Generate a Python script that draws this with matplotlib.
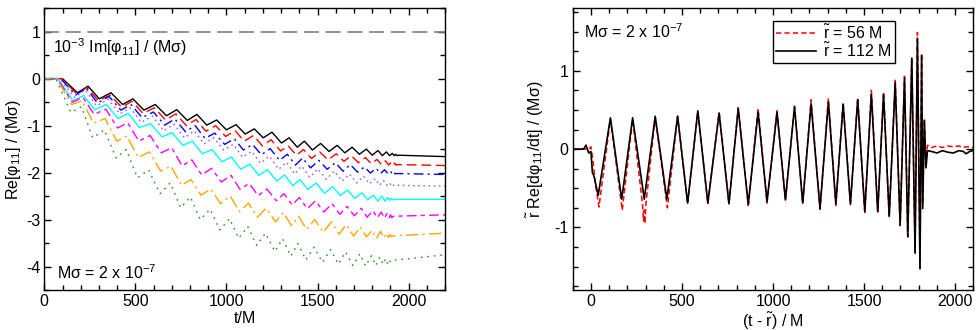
import numpy as np
import matplotlib
matplotlib.use("Agg")
import matplotlib.pyplot as plt
from matplotlib.ticker import MultipleLocator

plt.rcParams['font.family'] = ['Liberation Sans', 'DejaVu Sans']
plt.rcParams['mathtext.fontset'] = 'custom'
plt.rcParams['mathtext.rm'] = 'Liberation Sans'
plt.rcParams['mathtext.it'] = 'Liberation Sans'
plt.rcParams['mathtext.default'] = 'rm'
plt.rcParams['axes.unicode_minus'] = False

# ---- left panel: Re[phi_11] at several radii (extrema) ----
t_left = [0, 100, 182, 240, 302, 366, 430, 486, 547, 609, 671, 727, 785, 838, 892, 946,
          1000, 1053, 1103, 1153, 1202, 1250, 1302, 1344, 1389, 1428, 1472, 1517, 1563, 1608,
          1650, 1690, 1730, 1768, 1800, 1832, 1856, 1878, 1896, 1910, 1921, 1929, 1936, 1945]
t_left_end = 2200

re_black = [0, 0, -0.30, -0.16, -0.43, -0.30, -0.55, -0.43, -0.67, -0.55, -0.79, -0.66, -0.89, -0.76,
            -0.99, -0.88, -1.09, -0.98, -1.18, -1.07, -1.26, -1.14, -1.37, -1.26, -1.46, -1.33, -1.52,
            -1.38, -1.55, -1.42, -1.58, -1.46, -1.61, -1.50, -1.63, -1.53, -1.64, -1.56, -1.64, -1.59,
            -1.64, -1.61, -1.64, -1.63]
re_red = [0, 0, -0.32, -0.19, -0.47, -0.35, -0.61, -0.48, -0.74, -0.62, -0.88, -0.75, -1.00, -0.87,
          -1.12, -1.00, -1.23, -1.11, -1.33, -1.21, -1.43, -1.30, -1.54, -1.43, -1.63, -1.51, -1.70,
          -1.56, -1.73, -1.60, -1.76, -1.64, -1.79, -1.68, -1.81, -1.72, -1.83, -1.75, -1.84, -1.78,
          -1.84, -1.80, -1.84, -1.83]
re_blue = [0, 0, -0.35, -0.20, -0.52, -0.38, -0.67, -0.55, -0.83, -0.71, -0.99, -0.86, -1.13, -1.00,
           -1.27, -1.16, -1.40, -1.28, -1.52, -1.40, -1.62, -1.49, -1.74, -1.61, -1.84, -1.69, -1.90,
           -1.74, -1.93, -1.79, -1.97, -1.83, -1.99, -1.88, -2.01, -1.91, -2.02, -1.94, -2.02, -1.97,
           -2.03, -1.99, -2.03, -2.02]
re_purple = [0, 0, -0.40, -0.24, -0.58, -0.44, -0.75, -0.62, -0.93, -0.80, -1.11, -0.97, -1.26, -1.11,
             -1.39, -1.26, -1.52, -1.40, -1.67, -1.55, -1.80, -1.65, -1.93, -1.78, -2.03, -1.86, -2.10,
             -1.92, -2.14, -1.97, -2.18, -2.03, -2.22, -2.08, -2.24, -2.13, -2.27, -2.17, -2.27, -2.22,
             -2.28, -2.25, -2.28, -2.27]
re_cyan = [0, 0, -0.47, -0.36, -0.66, -0.55, -0.85, -0.74, -1.04, -0.96, -1.24, -1.15, -1.42, -1.33,
           -1.60, -1.51, -1.77, -1.67, -1.93, -1.82, -2.06, -1.94, -2.18, -2.05, -2.28, -2.15, -2.36,
           -2.22, -2.44, -2.30, -2.49, -2.37, -2.55, -2.43, -2.58, -2.48, -2.61, -2.50, -2.61, -2.53,
           -2.59, -2.55, -2.58, -2.57]
re_magenta = [0, 0, -0.50, -0.40, -0.76, -0.65, -1.05, -0.94, -1.33, -1.21, -1.58, -1.47, -1.86, -1.73,
              -2.05, -1.91, -2.20, -2.06, -2.36, -2.23, -2.49, -2.35, -2.60, -2.45, -2.69, -2.53, -2.77,
              -2.60, -2.84, -2.66, -2.89, -2.72, -2.92, -2.76, -2.95, -2.81, -2.96, -2.84, -2.97, -2.87,
              -2.96, -2.90, -2.96, -2.93]
re_orange = [0, 0, -0.55, -0.47, -0.95, -0.85, -1.33, -1.22, -1.68, -1.56, -1.97, -1.86, -2.27, -2.15,
             -2.48, -2.35, -2.66, -2.50, -2.83, -2.65, -2.95, -2.76, -3.05, -2.85, -3.13, -2.93, -3.21,
             -3.00, -3.27, -3.05, -3.31, -3.11, -3.35, -3.16, -3.37, -3.23, -3.40, -3.25, -3.39, -3.29,
             -3.38, -3.32, -3.36, -3.35]
re_green = [0, 0, -0.72, -0.60, -1.26, -1.09, -1.69, -1.51, -2.11, -1.94, -2.45, -2.22, -2.75, -2.52,
            -3.00, -2.78, -3.22, -2.98, -3.40, -3.15, -3.55, -3.29, -3.68, -3.41, -3.78, -3.51, -3.86,
            -3.59, -3.91, -3.64, -3.95, -3.69, -3.98, -3.73, -3.99, -3.77, -3.98, -3.80, -3.95, -3.83,
            -3.93, -3.85, -3.90, -3.87]
re_end = [-1.66, -1.85, -2.04, -2.29, -2.57, -2.90, -3.29, -3.75]
lag_left = [0, -5, -10, -15, -25, -28, -32, -36]

im_t = [0, 2200]
im_val = [1.0, 1.0]

# ---- right panel: r Re[d phi_11/dt] for two extraction radii ----
t_r112 = [-100, -40, -27, -12, 0, 8, 16, 40, 107, 169, 229, 293, 353, 417, 476, 531, 587, 642,
          704, 758, 809, 864, 918, 967, 1022, 1068, 1118, 1163, 1209, 1258, 1304, 1345, 1385, 1425,
          1465, 1504, 1540, 1575, 1607, 1638, 1671, 1698, 1722, 1740, 1762, 1780, 1793, 1807, 1816,
          1822, 1831, 1840, 1848, 1870, 1900, 1930, 1960, 1990, 2020, 2045, 2060, 2080, 2100]
d_r112 = [0, 0, 0.05, -0.05, -0.03, -0.30, -0.34, -0.59, 0.40, -0.64, 0.40, -0.64, 0.42, -0.64,
          0.42, -0.69, 0.49, -0.69, 0.46, -0.70, 0.52, -0.71, 0.47, -0.67, 0.47, -0.65, 0.54, -0.69,
          0.58, -0.76, 0.60, -0.70, 0.57, -0.70, 0.63, -0.80, 0.70, -0.80, 0.70, -0.86, 0.85, -0.97,
          0.91, -1.12, 1.16, -1.33, 1.41, -1.53, 1.20, -0.76, 0.37, -0.24, -0.02, -0.03, -0.05, -0.02,
          -0.04, -0.05, -0.02, -0.03, -0.06, -0.03, -0.02]
t_r56 = [-100, -40, -10, 0, 10, 25, 44, 107, 172, 229, 283, 289, 293, 297, 302, 353, 420, 476, 531,
         587, 642, 704, 758, 809, 864, 918, 967, 1022, 1068, 1118, 1163, 1209, 1258, 1304, 1345, 1385,
         1425, 1465, 1504, 1540, 1575, 1607, 1638, 1671, 1698, 1722, 1740, 1762, 1780, 1793, 1807,
         1816, 1822, 1831, 1840, 1848, 1870, 1900, 1930, 1960, 1990, 2020, 2045, 2060, 2080, 2100]
d_r56 = [0, 0, 0.0, 0.03, -0.12, -0.45, -0.74, 0.38, -0.78, 0.38, -0.70, -0.92, -0.78, -0.95, -0.70,
         0.40, -0.75, 0.42, -0.70, 0.48, -0.70, 0.47, -0.70, 0.53, -0.72, 0.52, -0.69, 0.49, -0.66,
         0.55, -0.70, 0.63, -0.77, 0.65, -0.72, 0.60, -0.71, 0.66, -0.81, 0.75, -0.80, 0.73, -0.87,
         0.88, -0.98, 0.93, -1.12, 1.17, -1.33, 1.49, -1.52, 1.22, -0.70, 0.38, -0.20, 0.05, 0.02,
         0.04, 0.02, 0.04, 0.03, 0.04, 0.02, 0.03, 0.03, 0.02]

FS = 11.5

fig = plt.figure(figsize=(9.8, 3.3), dpi=100)
ax1 = fig.add_axes([0.0452, 0.1212, 0.4089, 0.854])
ax2 = fig.add_axes([0.5844, 0.1212, 0.4088, 0.854])

left_series = [re_black, re_red, re_blue, re_purple, re_cyan, re_magenta, re_orange, re_green]
left_colors = ['black', '#ff0000', '#0000ff', '#9a5cf0', '#00ffff', '#ff00ff', '#ffa500', '#2e8b2e']
left_dashes = [None, (7, 3.5), (7, 3, 1.5, 3), (1.2, 2.5), None, (7, 3, 3, 3), (9, 3, 1.5, 3), (1.2, 3.5)]

ax1.plot(im_t, im_val, color='#808080', lw=1.2, dashes=(9, 4))
for k in range(len(left_series)):
    x = np.append(np.array(t_left) + lag_left[k], t_left_end)
    y = np.append(left_series[k], re_end[k])
    line, = ax1.plot(x, y, color=left_colors[k], lw=1.0)
    if left_dashes[k] is not None:
        line.set_dashes(left_dashes[k])

ax1.set_xlim(0, 2200)
ax1.set_ylim(-4.5, 1.5)
ax1.set_xticks([0, 500, 1000, 1500, 2000])
ax1.set_yticks([-4, -3, -2, -1, 0, 1])
ax1.xaxis.set_minor_locator(MultipleLocator(100))
ax1.yaxis.set_minor_locator(MultipleLocator(0.5))
ax1.set_xlabel('t/M', fontsize=FS, labelpad=1)
ax1.set_ylabel(r'Re[$\varphi_{11}$] / (M$\sigma$)', fontsize=FS, labelpad=2)
ax1.text(0.0225, 0.863, r'10$^{-3}$ Im[$\varphi_{11}$] / (M$\sigma$)', transform=ax1.transAxes,
         fontsize=FS, ha='left', va='center')
ax1.text(0.031, 0.06, r'M$\sigma$ = 2 x 10$^{-7}$', transform=ax1.transAxes,
         fontsize=FS, ha='left', va='center')

ax2.plot(t_r56, d_r56, color='#ff0000', lw=1.1, dashes=(3.5, 2), label=r'$\tilde{\mathrm{r}}$ = 56 M', zorder=2)
ax2.plot(t_r112, d_r112, color='black', lw=1.2, label=r'$\tilde{\mathrm{r}}$ = 112 M', zorder=3)
ax2.set_xlim(-100, 2100)
ax2.set_ylim(-1.8, 1.8)
ax2.set_xticks([0, 500, 1000, 1500, 2000])
ax2.set_yticks([-1, 0, 1])
ax2.xaxis.set_minor_locator(MultipleLocator(100))
ax2.yaxis.set_minor_locator(MultipleLocator(0.25))
ax2.set_xlabel(r'(t - $\tilde{\mathrm{r}}$) / M', fontsize=FS, labelpad=1)
ax2.set_ylabel(r'$\tilde{\mathrm{r}}$ Re[d$\varphi_{11}$/dt] / (M$\sigma$)', fontsize=FS, labelpad=6)
ax2.text(0.029, 0.917, r'M$\sigma$ = 2 x 10$^{-7}$', transform=ax2.transAxes,
         fontsize=FS, ha='left', va='center')
leg = ax2.legend(loc='upper left', bbox_to_anchor=(0.499, 0.956), fontsize=FS, frameon=True,
                 fancybox=False, framealpha=1, edgecolor='black', handlelength=2.5,
                 borderpad=0.2, labelspacing=0.0, handletextpad=0.45, borderaxespad=0)
leg.get_frame().set_linewidth(1.0)

for ax in (ax1, ax2):
    ax.tick_params(which='both', direction='in', top=True, right=True, labelsize=FS, width=1)
    ax.tick_params(which='major', length=5, pad=3)
    ax.tick_params(which='minor', length=3.5)
    for s in ax.spines.values():
        s.set_linewidth(1.0)

fig.savefig('out.png', dpi=100)
